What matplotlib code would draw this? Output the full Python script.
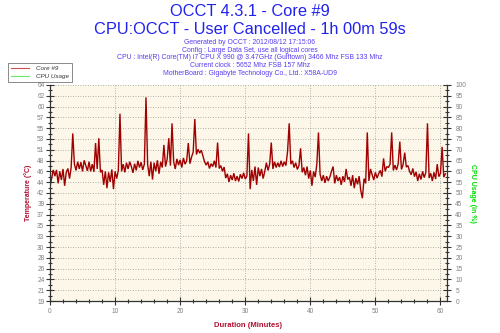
import numpy as np
import matplotlib
matplotlib.use("Agg")
import matplotlib.pyplot as plt
from matplotlib.lines import Line2D
from matplotlib.ticker import MultipleLocator, FixedLocator

plt.rcParams['font.family'] = ['Liberation Sans', 'DejaVu Sans']

title1 = "OCCT 4.3.1 - Core #9"
title2 = "CPU:OCCT - User Cancelled - 1h 00m 59s"
info_lines = [
    "Generated by OCCT : 2012/08/12 17:15:06",
    "Config : Large Data Set, use all logical cores",
    "CPU : Intel(R) Core(TM) i7 CPU X 990 @ 3.47GHz (Gulftown) 3466 Mhz FSB 133 Mhz",
    "Current clock : 5652 Mhz FSB 157 Mhz",
    "MotherBoard : Gigabyte Technology Co., Ltd.: X58A-UD9",
]

# Core #9 temperature (°C), sampled every quarter minute
temp = [
    42.8, 44.5, 46.3, 45.0,   46.3, 43.5, 46.0, 44.2,   46.5, 43.0, 45.8, 46.6,
    44.5, 46.8, 53.9, 47.5,   46.2, 48.0, 46.5, 47.9,   46.0, 48.3, 47.2, 46.1,
    48.0, 46.0, 47.5, 45.9,   51.9, 46.5, 52.9, 45.8,   46.3, 43.2, 46.0, 42.5,
    45.8, 43.8, 46.4, 42.3,   46.0, 44.5, 46.2, 58.0,   46.0, 47.5, 45.8, 47.8,
    46.5, 48.0, 47.0, 45.7,   47.6, 46.2, 48.2, 46.8,   47.9, 46.3, 47.5, 61.4,
    47.5, 45.0, 48.0, 44.3,   47.8, 46.0, 48.3, 45.5,   48.0, 46.8, 51.5, 47.0,
    48.5, 52.9, 47.2, 56.0,   48.0, 46.5, 48.6, 47.3,   48.4, 46.8, 48.8, 47.5,
    48.2, 51.9, 47.6, 49.0,   50.0, 56.9, 49.5, 50.6,   49.8, 50.4, 49.2, 48.0,
    47.3, 48.0, 46.6, 47.6,   47.0, 48.2, 46.8, 52.0,   46.6, 47.2, 46.0, 46.9,
    44.6, 45.5, 43.8, 45.2,   44.2, 45.6, 44.0, 45.0,   43.9, 45.4, 44.5, 45.7,
    44.4, 45.0, 53.9, 42.3,   46.3, 44.0, 47.0, 43.2,   46.8, 45.0, 46.5, 44.5,
    46.0, 47.8, 46.2, 47.5,   52.0, 46.5, 48.0, 46.8,   47.8, 46.9, 48.2, 47.0,
    48.0, 47.2, 50.1, 56.0,   47.5, 48.2, 46.8, 47.8,   46.4, 47.2, 50.8, 45.8,
    46.8, 45.2, 47.0, 44.5,   46.2, 43.0, 46.0, 44.8,   47.5, 54.1, 45.4, 44.0,
    45.2, 43.6, 45.0, 44.0,   44.8, 46.0, 47.0, 43.5,   45.2, 44.0, 44.8, 43.2,
    45.0, 43.8, 46.5, 44.3,   44.8, 43.0, 45.2, 42.5,   44.6, 43.3, 45.0, 42.0,
    40.4, 44.5, 43.5, 54.1,   44.0, 46.5, 45.3, 44.2,   45.8, 44.6, 45.5, 46.2,
    44.9, 48.7, 46.0, 47.0,   46.8, 47.5, 54.1, 46.2,   47.3, 46.3, 47.6, 52.2,
    46.4, 47.4, 49.9, 46.9,   47.2, 46.0, 45.3, 46.6,   44.9, 45.9, 44.0, 45.5,
    44.3, 46.0, 44.7, 45.8,   56.0, 44.6, 45.6, 44.0,   45.8, 44.4, 47.5, 44.9,
    45.6, 51.1, 44.8, 45.5,
]
minutes = np.arange(len(temp)) * 0.25

temp_ticklabels = ['19', '21', '24', '26', '28', '30', '33', '35', '37', '39', '42',
                   '44', '46', '48', '51', '53', '55', '57', '60', '62', '64']
usage_ticks = list(range(0, 101, 5))
x_ticks = [0, 10, 20, 30, 40, 50, 60]

fig = plt.figure(figsize=(5.0, 3.33), dpi=100)
ax = fig.add_axes([0.10, 0.096, 0.794, 0.649])
ax.set_facecolor('#FCF7E8')

ax.plot(minutes, temp, color='#A00000', lw=1.0, solid_joinstyle='miter')

ax.set_xlim(0, 61)
ax.set_ylim(19, 64)
yt = np.linspace(19, 64, 21)
ax.yaxis.set_major_locator(FixedLocator(yt))
ax.set_yticklabels(temp_ticklabels)
ax.yaxis.set_minor_locator(FixedLocator((yt[:-1] + yt[1:]) / 2))
ax.set_xticks(x_ticks)
ax.xaxis.set_minor_locator(MultipleLocator(2))

ax.grid(True, which='major', color='#9a9a9a', linestyle=(0, (1, 2)), lw=0.6)
for s in ['top', 'right']:
    ax.spines[s].set_visible(False)
for s in ['left', 'bottom']:
    ax.spines[s].set_color('#333333')
    ax.spines[s].set_linewidth(0.9)

tick_kw = dict(colors='#333333', labelcolor='#808080', labelsize=4.7, direction='inout')
ax.tick_params(axis='both', which='major', length=6, width=0.8, **tick_kw)
ax.tick_params(axis='both', which='minor', length=3.5, width=0.8, **tick_kw)
ax.tick_params(axis='y', pad=1)
ax.tick_params(axis='x', pad=2)

ax2 = ax.twinx()
ax2.set_ylim(0, 100)
ax2.set_yticks(usage_ticks)
ax2.yaxis.set_minor_locator(MultipleLocator(2.5))
for s in ['top', 'left', 'bottom']:
    ax2.spines[s].set_visible(False)
ax2.spines['right'].set_color('#333333')
ax2.spines['right'].set_linewidth(0.9)
ax2.tick_params(axis='y', which='major', length=6, width=0.8, pad=3, **tick_kw)
ax2.tick_params(axis='y', which='minor', length=3.5, width=0.8, **tick_kw)

ax.set_ylabel('Temperature (°C)', color='#B01030', fontsize=5, fontweight='bold', labelpad=4)
ax2.set_ylabel('CPU Usage (in %)', color='#00DD00', fontsize=5, fontweight='bold',
               rotation=270, labelpad=7)
ax.set_xlabel('Duration (Minutes)', color='#B01030', fontsize=5.5, fontweight='bold', labelpad=5)

fig.text(0.5, 1 - 12 / 333, title1, ha='center', va='center', fontsize=11.8, color='#2222EE')
fig.text(0.5, 1 - 29 / 333, title2, ha='center', va='center', fontsize=11.8, color='#2222EE')
for i, line in enumerate(info_lines):
    fig.text(0.5, 1 - (42.7 + 7.6 * i) / 333, line, ha='center', va='center',
             fontsize=4.95, color='#5A3CF0')

handles = [Line2D([], [], color='#D05050', lw=0.8), Line2D([], [], color='#66EE66', lw=0.8)]
leg = fig.legend(handles, ['Core #9', 'CPU Usage'], loc='upper left',
                 bbox_to_anchor=(8 / 500, 1 - 63 / 333), fontsize=4.5, frameon=True,
                 fancybox=False, handlelength=3.0, borderpad=0.4, labelspacing=0.5,
                 handletextpad=1.1, borderaxespad=0)
leg.get_frame().set_edgecolor('#555555')
leg.get_frame().set_linewidth(0.6)
for t in leg.get_texts():
    t.set_fontstyle('italic')
    t.set_color('#333333')

fig.savefig('out.png', dpi=100, facecolor='white')
